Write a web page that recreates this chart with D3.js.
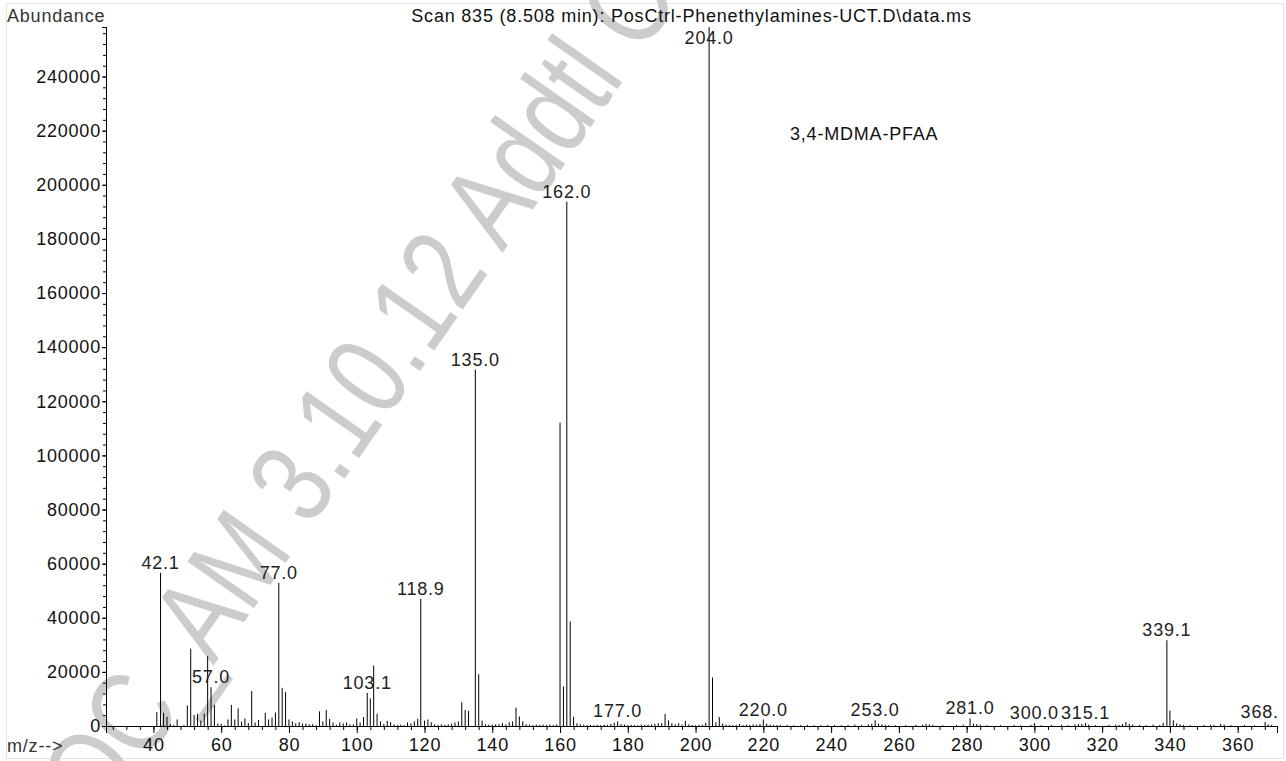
<!DOCTYPE html>
<html>
<head>
<meta charset="utf-8">
<script src="https://cdn.jsdelivr.net/npm/d3@7"></script>
<style>
  body { margin: 0; background: #fff; }
  svg { display: block; font-family: "Liberation Sans", Arial, Helvetica, sans-serif; }
  .lbl { font-size: 18px; letter-spacing: 0.8px; }
</style>
</head>
<body>
<div id="wrapper"></div>
<script>
// spectrum: m/z and abundance
const mzValues = [
  41, 42.1, 43, 44, 45, 46, 47, 49, 50, 51, 52, 53, 54, 55, 56, 57, 58, 59, 60, 61,
  62, 63, 64, 65, 66, 67, 68, 69, 70, 71, 73, 74, 75, 76, 77, 78, 79, 80, 81, 82,
  83, 84, 85, 86, 87, 88, 89, 90, 91, 92, 93, 94, 95, 96, 97, 98, 99, 100, 101, 102,
  103.1, 104, 105, 106, 107, 108, 109, 110, 111, 112, 113, 114, 115, 116, 117, 118, 118.9, 120, 121, 122,
  123, 124, 125, 126, 127, 128, 129, 130, 131, 132, 133, 135, 136, 137, 138, 139, 140, 141, 142, 143,
  144, 145, 146, 147, 148, 149, 150, 151, 152, 153, 154, 155, 156, 157, 158, 159, 160, 161, 162, 163,
  164, 165, 166, 167, 168, 169, 170, 171, 172, 173, 174, 175, 176, 177, 178, 179, 180, 181, 182, 183,
  184, 185, 186, 187, 188, 189, 190, 191, 192, 193, 194, 195, 196, 197, 198, 199, 200, 201, 202, 203,
  204, 205, 206, 207, 208, 209, 210, 211, 212, 213, 214, 215, 216, 217, 218, 219, 220, 221, 222, 223,
  224, 225, 227, 229, 231, 233, 235, 237, 239, 241, 243, 245, 247, 249, 251, 252, 253, 254, 255, 256,
  257, 259, 262, 265, 267, 268, 269, 270, 273, 277, 279, 281, 282, 283, 284, 286, 290, 294, 296, 299,
  300, 302, 305, 308, 310, 312, 313, 314, 315.1, 316, 318, 322, 324, 325, 326, 327, 328, 329, 331, 333,
  335, 337, 338, 339.1, 340, 341, 342, 343, 344, 346, 350, 352, 353, 355, 356, 358, 362, 365, 368.1, 369,
  370
]
const abundances = [
  5100, 56600, 4870, 3400, 700, 400, 2400, 400, 7600, 28600, 4100, 4500, 2000, 4600, 25800, 14300, 7800, 900, 800, 200,
  2400, 7800, 2400, 6500, 1600, 2800, 1100, 12900, 1300, 2200, 4900, 2400, 3100, 5000, 52900, 14100, 12600, 2400, 1700, 1000,
  1400, 900, 900, 600, 700, 300, 5400, 1700, 5900, 2600, 1300, 500, 1300, 1000, 1300, 600, 600, 2800, 1300, 3300,
  12250, 10200, 22350, 4500, 1700, 700, 1900, 1400, 600, 400, 500, 300, 1300, 1000, 1700, 2600, 47000, 2000, 2400, 1400,
  600, 400, 600, 400, 600, 900, 1300, 1700, 8800, 5900, 5600, 131700, 19150, 2000, 600, 500, 500, 600, 700, 1100,
  600, 1400, 1700, 6800, 3500, 1700, 700, 500, 400, 500, 400, 500, 400, 500, 400, 600, 112100, 14600, 193700, 38600,
  3400, 1000, 600, 500, 300, 400, 300, 400, 300, 500, 400, 800, 1200, 1700, 700, 500, 300, 400, 400, 300,
  500, 400, 500, 600, 800, 1000, 1100, 4400, 2100, 1000, 600, 1000, 500, 1900, 600, 400, 300, 400, 500, 1200,
  258300, 17900, 1400, 3300, 900, 500, 400, 300, 400, 700, 300, 500, 400, 600, 500, 800, 2400, 900, 500, 400,
  300, 300, 400, 300, 300, 400, 300, 300, 400, 300, 300, 400, 500, 400, 600, 800, 2100, 900, 600, 400,
  300, 300, 300, 400, 500, 800, 600, 400, 300, 400, 500, 2800, 900, 700, 500, 300, 300, 400, 300, 400,
  1100, 300, 400, 500, 300, 600, 700, 800, 1100, 500, 300, 400, 500, 400, 700, 1500, 800, 500, 400, 300,
  500, 400, 1200, 31700, 5700, 2100, 1000, 600, 400, 300, 400, 500, 400, 800, 500, 300, 400, 300, 1500, 600,
  400
]
const labelledPeaks = [42.1, 57, 77, 103.1, 118.9, 135, 162, 177, 204, 220, 253, 281, 300, 315.1, 339.1, 368.1]

const xTickValues = [40, 60, 80, 100, 120, 140, 160, 180, 200, 220, 240, 260, 280, 300, 320, 340, 360]
const yTickValues = [0, 20000, 40000, 60000, 80000, 100000, 120000, 140000, 160000, 180000, 200000, 220000, 240000]

const titleText = "Scan 835 (8.508 min): PosCtrl-Phenethylamines-UCT.D\\data.ms"
const compoundName = "3,4-MDMA-PFAA"
const watermarkText = "QC_AM 3.10.12 Addtl C"

const dataset = mzValues.map((mz, i) => ({mz: mz, abundance: abundances[i]}))

const xAccessor = d => d.mz
const yAccessor = d => d.abundance

let dimensions = {
  width: 1286,
  height: 761,
  margin: {top: 27, right: 9, bottom: 35, left: 106}
}
dimensions.boundedWidth = dimensions.width - dimensions.margin.left - dimensions.margin.right
dimensions.boundedHeight = dimensions.height - dimensions.margin.top - dimensions.margin.bottom

const wrapper = d3.select("#wrapper")
  .append("svg")
    .attr("width", dimensions.width)
    .attr("height", dimensions.height)

// page frame
wrapper.append("rect")
    .attr("x", 6.5)
    .attr("y", 3.5)
    .attr("width", 1277)
    .attr("height", 755)
    .attr("fill", "none")
    .attr("stroke", "#e2e2e2")

// watermark sits behind everything (narrow letters, so squeeze along the baseline)
wrapper.append("text")
    .attr("transform", "translate(102,825) rotate(-55) scale(0.8,1)")
    .attr("fill", "#cccccc")
    .style("font-size", "118px")
    .text(watermarkText)

wrapper.append("defs").append("clipPath")
    .attr("id", "plot-clip")
  .append("rect")
    .attr("x", -dimensions.margin.left)
    .attr("y", -dimensions.margin.top)
    .attr("width", dimensions.margin.left + dimensions.boundedWidth)
    .attr("height", dimensions.height)

const bounds = wrapper.append("g")
    .attr("transform", `translate(${dimensions.margin.left},${dimensions.margin.top})`)

const xScale = d3.scaleLinear()
    .domain([26, 371.6])
    .range([0, dimensions.boundedWidth])

const yScale = d3.scaleLinear()
    .domain([0, d3.max(dataset, yAccessor)])
    .range([dimensions.boundedHeight, 0])

const peaks = bounds.append("g")
  .selectAll("line")
  .data(dataset)
  .enter().append("line")
    .attr("x1", d => xScale(xAccessor(d)))
    .attr("x2", d => xScale(xAccessor(d)))
    .attr("y1", yScale(0))
    .attr("y2", d => yScale(yAccessor(d)))
    .attr("stroke", "#000")
    .attr("stroke-width", 1)

const peakLabels = bounds.append("g")
    .attr("clip-path", "url(#plot-clip)")
  .selectAll("text")
  .data(dataset.filter(d => labelledPeaks.includes(d.mz)))
  .enter().append("text")
    .attr("class", "lbl")
    .attr("x", d => xScale(xAccessor(d)))
    .attr("y", d => Math.max(yScale(yAccessor(d)) - 4, 17))
    .attr("text-anchor", "middle")
    .attr("fill", "#222")
    .text(d => d.mz.toFixed(1))

// axes
const xAxisGenerator = d3.axisBottom(xScale)
    .tickValues(xTickValues)
    .tickSize(7)
    .tickFormat(d3.format("d"))

const xMinorGenerator = d3.axisBottom(xScale)
    .tickValues(d3.range(28, 370, 4))
    .tickSize(4)
    .tickFormat("")

const xMinor = bounds.append("g")
    .attr("transform", `translate(0,${dimensions.boundedHeight})`)
    .call(xMinorGenerator)

const xAxis = bounds.append("g")
    .attr("transform", `translate(0,${dimensions.boundedHeight})`)
    .call(xAxisGenerator)

xAxis.selectAll("text")
    .attr("class", "lbl")
    .attr("y", 25)
    .attr("dy", null)
    .attr("fill", "#111")
    .style("font-size", null)

const yAxisGenerator = d3.axisLeft(yScale)
    .tickValues(yTickValues)
    .tickSize(4)
    .tickPadding(1)
    .tickFormat(d3.format("d"))

const yMinorGenerator = d3.axisLeft(yScale)
    .tickValues(d3.range(0, 258000, 4000))
    .tickSize(3)
    .tickFormat("")

const yMinor = bounds.append("g")
    .call(yMinorGenerator)

const yAxis = bounds.append("g")
    .call(yAxisGenerator)

yAxis.selectAll("text")
    .attr("class", "lbl")
    .attr("fill", "#111")

wrapper.selectAll(".domain").attr("stroke", "#000")
wrapper.selectAll(".tick line").attr("stroke", "#000")
// d3 puts font settings on the axis group; let the class win
wrapper.selectAll(".tick").each(function() { d3.select(this.parentNode).attr("font-size", null).attr("font-family", null) })

// texts around the plot
wrapper.append("text")
    .attr("class", "lbl")
    .attr("x", 7)
    .attr("y", 22)
    .attr("fill", "#333")
    .text("Abundance")

wrapper.append("text")
    .attr("class", "lbl")
    .attr("x", 7)
    .attr("y", 752)
    .attr("fill", "#333")
    .text("m/z-->")

wrapper.append("text")
    .attr("class", "lbl")
    .attr("x", dimensions.margin.left + dimensions.boundedWidth / 2)
    .attr("y", 22)
    .attr("text-anchor", "middle")
    .attr("fill", "#111")
    .text(titleText)

wrapper.append("text")
    .attr("class", "lbl")
    .attr("x", 790)
    .attr("y", 140)
    .attr("fill", "#111")
    .text(compoundName)
</script>
</body>
</html>
